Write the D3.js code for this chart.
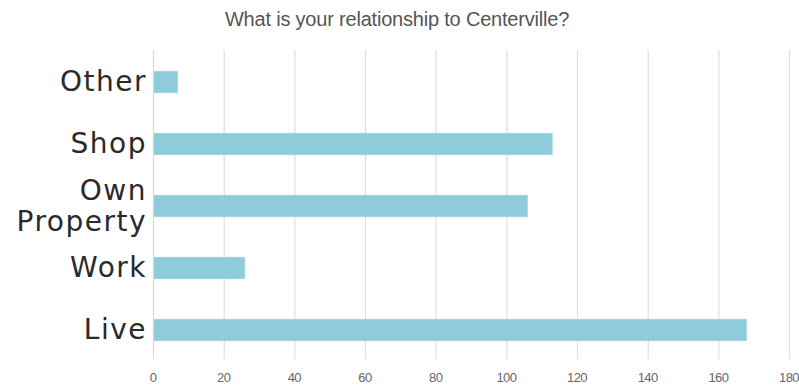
<!DOCTYPE html>
<html><head><meta charset="utf-8">
<script src="https://cdn.jsdelivr.net/npm/d3@7"></script>
<style>body{margin:0;background:#fff}svg{display:block}</style>
</head><body>
<svg id="c" width="799" height="385"></svg>
<script>
const categories = ["Other", "Shop", "Own Property", "Work", "Live"];
const values = [7, 113, 106, 26, 168];
const xTicks = [0, 20, 40, 60, 80, 100, 120, 140, 160, 180];
const title = "What is your relationship to Centerville?";

const svg = d3.select("#c");
const x = d3.scaleLinear().domain([0,180]).range([153, 789]);
const y = d3.scaleBand().domain(categories).range([51, 361]).paddingInner(0.65).paddingOuter(0.325);

// gridlines
svg.append("g").selectAll("line").data(xTicks).join("line")
  .attr("x1", d=>x(d)+0.5).attr("x2", d=>x(d)+0.5)
  .attr("y1", 50).attr("y2", 359)
  .attr("stroke", d=> d===0 ? "#d9d9d9" : "#dedede").attr("stroke-width", 1.2);

// bars
svg.append("g").selectAll("rect").data(categories).join("rect")
  .attr("x", x(0)+1).attr("y", d=>y(d))
  .attr("width", (d,i)=>x(values[i])-x(0)-1).attr("height", y.bandwidth())
  .attr("fill", "#8ecbdb").attr("stroke", "#a9d8e5").attr("stroke-width", 0.6);

// x tick labels
svg.append("g").selectAll("text").data(xTicks).join("text")
  .attr("x", d=>x(d)).attr("y", 382).attr("text-anchor","middle")
  .attr("font-family","Liberation Sans, Arial, sans-serif").attr("font-size", 13)
  .attr("letter-spacing", -0.6).attr("fill","#666").text(d=>d);

// y labels
const lab = svg.append("g").selectAll("g").data(categories).join("g");
lab.each(function(d){
  const g = d3.select(this);
  const cy = y(d) + y.bandwidth()/2;
  const words = d.split(" ");
  const lines = words.length === 1 ? [[d, cy + 9]] : [[words[0], cy - 6], [words[1], cy + 24.5]];
  lines.forEach(([s, yy]) => {
    g.append("text").attr("x", 147).attr("y", yy).attr("text-anchor","end")
      .attr("font-family","DejaVu Sans, sans-serif").attr("font-size", 28)
      .attr("letter-spacing", 1.5).attr("fill","#2a2a2a").text(s);
  });
});

// title
svg.append("text").attr("x", 397).attr("y", 26).attr("text-anchor","middle")
  .attr("font-family","Liberation Sans, Arial, sans-serif").attr("font-size", 20)
  .attr("letter-spacing", -0.2).attr("fill","#555").text(title);
</script>
</body></html>
